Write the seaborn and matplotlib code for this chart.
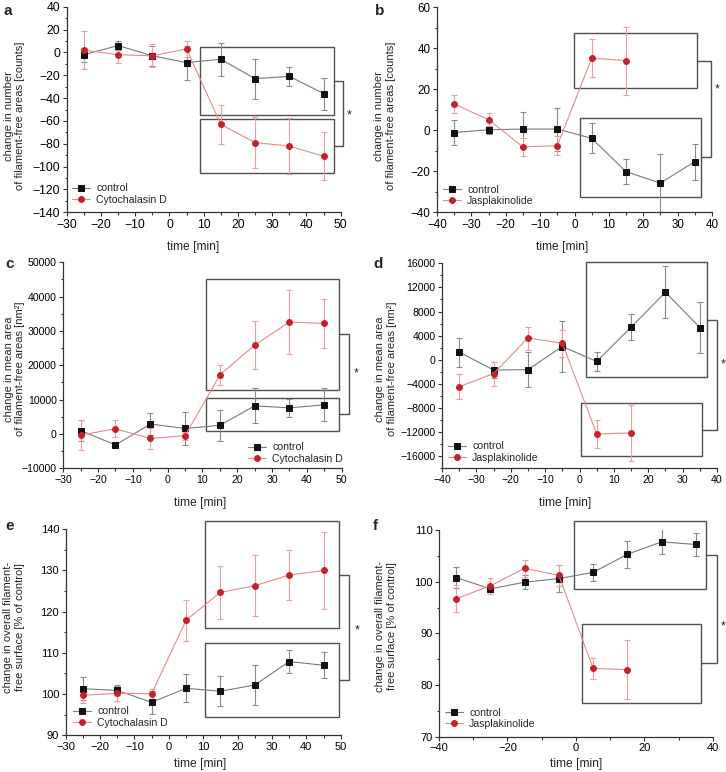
import numpy as np
import pandas as pd
import matplotlib
matplotlib.use("Agg")
import matplotlib.pyplot as plt
from matplotlib.patches import Rectangle
from matplotlib.ticker import MultipleLocator
import seaborn as sns

sns.set_style("ticks")
plt.rcParams['font.family'] = ['Liberation Sans', 'DejaVu Sans']

# ---------------- data ----------------
t_cd = [-25, -15, -5, 5, 15, 25, 35, 45]
t_jc = [-35, -25, -15, -5, 5, 15, 25, 35]
t_jj = [-35, -25, -15, -5, 5, 15]

# a: number of areas, cytochalasin D experiment
a_ctrl = [-2, 6, -3, -9, -6, -23, -21, -36]
a_ctrl_err = [6, 4, 9, 15, 14.5, 17.5, 8.5, 14]
a_cyto = [2, -2, -3, 3, -63, -79, -82, -91]
a_cyto_err = [16.5, 7, 10, 7, 17, 22.5, 24.7, 21]

# b: number of areas, jasplakinolide experiment
b_ctrl = [-1.1, 0.3, 0.6, 0.6, -3.9, -20.2, -25.7, -15.3]
b_ctrl_err = [6.3, 2, 8.5, 10.5, 7.4, 6, 14.3, 8.8]
b_jasp = [12.8, 5.2, -8.1, -7.5, 35.2, 34.0]
b_jasp_err = [4.6, 3.3, 4.5, 4.7, 9.3, 16.6]

# c: mean area, cytochalasin D experiment
c_ctrl = [1000, -3200, 2900, 1600, 2500, 8200, 7600, 8500]
c_ctrl_err = [3000, 600, 3300, 4900, 4500, 5100, 2600, 4800]
c_cyto = [-300, 1500, -1300, -500, 17200, 25900, 32600, 32200]
c_cyto_err = [4400, 2500, 3000, 1200, 3000, 7000, 9200, 7100]

# d: mean area, jasplakinolide experiment
d_ctrl = [1270, -1700, -1650, 2200, -280, 5400, 11200, 5350]
d_ctrl_err = [2400, 1300, 2900, 4200, 1500, 2200, 4300, 4300]
d_jasp = [-4470, -2300, 3600, 2750, -12300, -12140]
d_jasp_err = [2100, 2000, 1900, 2250, 2350, 4700]

# e: overall surface, cytochalasin D experiment
e_ctrl = [101.3, 100.9, 98.0, 101.4, 100.7, 102.2, 107.9, 107.0]
e_ctrl_err = [2.8, 1.2, 2.8, 3.4, 3.7, 4.85, 2.7, 3.2]
e_cyto = [99.7, 100.2, 100.1, 117.9, 124.7, 126.3, 128.9, 130.0]
e_cyto_err = [1.9, 1.8, 1.2, 4.9, 6.5, 7.4, 6.0, 9.4]

# f: overall surface, jasplakinolide experiment
f_ctrl = [100.8, 98.6, 99.9, 100.6, 101.8, 105.3, 107.7, 107.2]
f_ctrl_err = [1.95, 0.6, 1.4, 2.6, 1.7, 2.6, 2.4, 2.3]
f_jasp = [96.7, 99.2, 102.6, 101.2, 83.2, 83.0]
f_jasp_err = [2.65, 1.6, 1.6, 2.1, 2.05, 5.7]

ylab_num = "change in number\nof filament-free areas [counts]"
ylab_area = "change in mean area\nof filament-free areas [nm²]"
ylab_surf = "change in overall filament-\nfree surface [% of control]"
xlab = "time [min]"

# ---------------- styles ----------------
BLACK_M = "#111111"
GREY_L = "#7a7a7a"
GREY_E = "#8a8a8a"
RED_M = "#c8202a"
RED_L = "#e58a8a"
RED_E = "#e9a0a0"
BOX_C = "#505050"

W, H = 726, 772
fig = plt.figure(figsize=(W / 100, H / 100), dpi=100)


def fx(x):
    return x / W


def fy(y):
    return 1 - y / H


def add_ax(x0, x1, y0, y1):
    return fig.add_axes([x0 / W, 1 - y1 / H, (x1 - x0) / W, (y1 - y0) / H])


def series(ax, t, v, err, lc, mc, ec, marker, label):
    ax.errorbar(t, v, yerr=err, fmt='none', ecolor=ec, elinewidth=0.8,
                capsize=2, capthick=0.8, zorder=2)
    df = pd.DataFrame({"time": t, "value": v})
    sns.lineplot(data=df, x="time", y="value", ax=ax, color=lc, lw=0.8,
                 marker=marker, markersize=4.2, markerfacecolor=mc,
                 markeredgecolor=mc, errorbar=None, label=label, zorder=3)


def boxes(ax, upper, lower, brx, star):
    for (x0, x1, y0, y1) in (upper, lower):
        ax.add_patch(Rectangle((x0, y0), x1 - x0, y1 - y0, fill=False,
                               ec=BOX_C, lw=1.0, clip_on=False, zorder=1))
    yu = (upper[2] + upper[3]) / 2
    yl = (lower[2] + lower[3]) / 2
    ax.plot([upper[1], brx, brx, lower[1]], [yu, yu, yl, yl], color=BOX_C,
            lw=1.0, clip_on=False, zorder=1)
    ax.text(star[0], star[1], "*", fontsize=9, ha="center", va="center",
            clip_on=False)


def style(ax, xlim, ylim, xmaj, xmin, ymaj, ymin, tick_fs,
          ylabel, ylab_pos, xlab_pos, letter, lpos, leg_pos):
    ax.set_xlim(*xlim)
    ax.set_ylim(*ylim)
    ax.xaxis.set_major_locator(MultipleLocator(xmaj))
    ax.xaxis.set_minor_locator(MultipleLocator(xmin))
    ax.yaxis.set_major_locator(MultipleLocator(ymaj))
    ax.yaxis.set_minor_locator(MultipleLocator(ymin))
    sns.despine(ax=ax)
    for s in ("left", "bottom"):
        ax.spines[s].set_color("#333333")
        ax.spines[s].set_linewidth(0.9)
    ax.tick_params(which="major", direction="out", length=3.2, width=0.8,
                   labelsize=tick_fs, pad=1.5, colors="#333333",
                   labelcolor="black")
    ax.tick_params(which="minor", direction="out", length=1.8, width=0.8,
                   colors="#333333")
    ax.set_xlabel("")
    ax.set_ylabel("")
    fig.text(fx(xlab_pos[0]), fy(xlab_pos[1]), xlab, fontsize=8.7,
             ha="center", va="center")
    fig.text(fx(ylab_pos[0]), fy(ylab_pos[1]), ylabel, fontsize=8,
             rotation=90, ha="center", va="center", linespacing=1.2,
             multialignment="center")
    fig.text(fx(lpos[0]), fy(lpos[1]), letter, fontsize=11,
             fontweight="bold", ha="left", va="top")
    ax.legend(loc="center left", bbox_to_anchor=(fx(leg_pos[0]), fy(leg_pos[1])),
              bbox_transform=fig.transFigure, frameon=False,
              fontsize=7.6, handlelength=1.75, handletextpad=0.55,
              labelspacing=0.12, borderpad=0, borderaxespad=0)


# ---- a ----
ax = add_ax(66.7, 340.7, 6.7, 212.3)
series(ax, t_cd, a_ctrl, a_ctrl_err, GREY_L, BLACK_M, GREY_E, "s", "control")
series(ax, t_cd, a_cyto, a_cyto_err, RED_L, RED_M, RED_E, "o", "Cytochalasin D")
boxes(ax, (9.0, 47.9, -54.8, 4.7), (9.0, 47.9, -105.8, -58.3), 50.7, (52.4, -55))
style(ax, (-30, 50), (-140, 40), 10, 5, 20, 10, 8.8,
      ylab_num, (14.5, 116), (193, 247), "a", (4, 4), (72, 194))

# ---- b ----
ax = add_ax(437, 712, 7.3, 212.3)
series(ax, t_jc, b_ctrl, b_ctrl_err, GREY_L, BLACK_M, GREY_E, "s", "control")
series(ax, t_jj, b_jasp, b_jasp_err, RED_L, RED_M, RED_E, "o", "Jasplakinolide")
boxes(ax, (-0.1, 35.5, 20.5, 47.3), (1.5, 36.9, -32.4, 5.9), 39.8, (41.5, 20))
style(ax, (-40, 40), (-40, 60), 10, 5, 20, 10, 8.4,
      ylab_num, (385, 116), (562, 247), "b", (375, 4), (443, 195.5))

# ---- c ----
ax = add_ax(63.3, 341.7, 262.3, 468.3)
series(ax, t_cd, c_ctrl, c_ctrl_err, GREY_L, BLACK_M, GREY_E, "s", "control")
series(ax, t_cd, c_cyto, c_cyto_err, RED_L, RED_M, RED_E, "o", "Cytochalasin D")
boxes(ax, (11.0, 49.2, 12800, 45200), (11.0, 49.2, 1000, 10500), 52.1, (54.3, 17500))
style(ax, (-30, 50), (-10000, 50000), 10, 5, 10000, 5000, 7.6,
      ylab_area, (14.5, 369), (200, 503), "c", (5, 257), (248, 453))

# ---- d ----
ax = add_ax(442, 717, 263.3, 468.3)
series(ax, t_jc, d_ctrl, d_ctrl_err, GREY_L, BLACK_M, GREY_E, "s", "control")
series(ax, t_jj, d_jasp, d_jasp_err, RED_L, RED_M, RED_E, "o", "Jasplakinolide")
boxes(ax, (1.8, 37.2, -2900, 16170), (0.35, 35.7, -16000, -7200), 40.0, (41.8, -700))
style(ax, (-40, 40), (-18000, 16000), 10, 5, 4000, 2000, 7.6,
      ylab_area, (386, 369), (565.5, 503), "d", (373, 257), (448, 452))

# ---- e ----
ax = add_ax(65.7, 340.7, 529.3, 735.3)
series(ax, t_cd, e_ctrl, e_ctrl_err, GREY_L, BLACK_M, GREY_E, "s", "control")
series(ax, t_cd, e_cyto, e_cyto_err, RED_L, RED_M, RED_E, "o", "Cytochalasin D")
boxes(ax, (10.5, 49.5, 116.0, 141.9), (10.5, 49.5, 94.5, 112.5), 52.4, (54.7, 115.5))
style(ax, (-30, 50), (90, 140), 10, 5, 10, 5, 8.0,
      ylab_surf, (14, 627), (200, 764), "e", (5, 519), (73, 717))

# ---- f ----
ax = add_ax(439, 713, 530, 736.7)
series(ax, t_jc, f_ctrl, f_ctrl_err, GREY_L, BLACK_M, GREY_E, "s", "control")
series(ax, t_jj, f_jasp, f_jasp_err, RED_L, RED_M, RED_E, "o", "Jasplakinolide")
boxes(ax, (-0.6, 38.05, 98.6, 111.7), (1.65, 36.6, 76.6, 91.8), 41.2, (42.9, 91.3))
style(ax, (-40, 40), (70, 110), 20, 10, 10, 5, 8.0,
      ylab_surf, (386, 626), (576, 764), "f", (373, 519), (445, 718.5))

fig.savefig("out.png", dpi=100)
